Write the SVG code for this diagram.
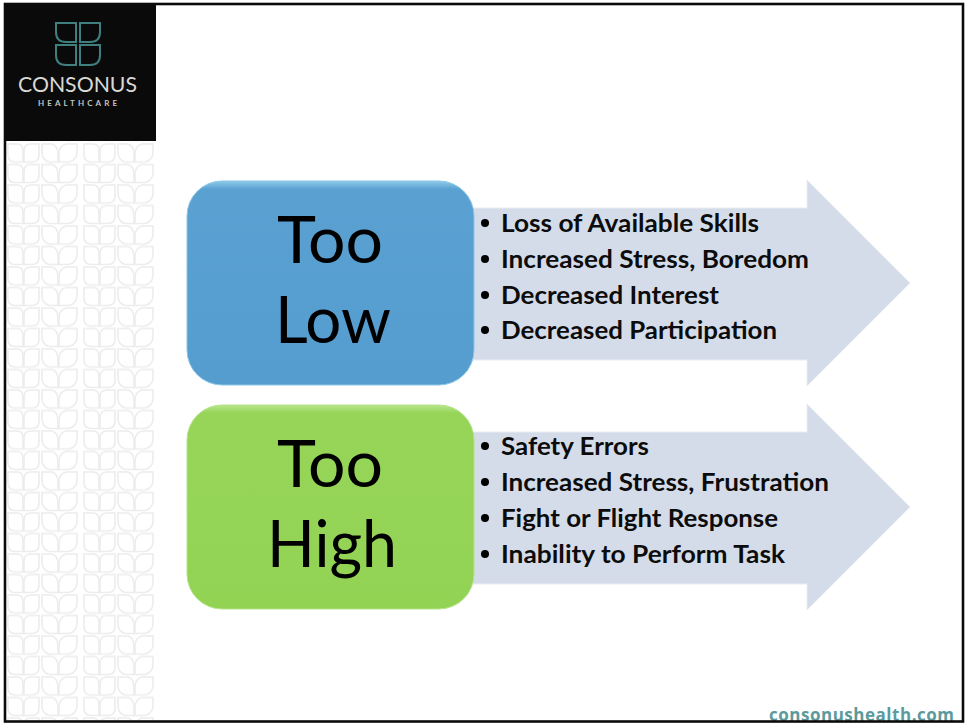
<svg xmlns="http://www.w3.org/2000/svg" width="966" height="723" viewBox="0 0 966 723">
<style>
.big{font-family:Lato,"Liberation Sans",sans-serif;font-size:65px;fill:#000;text-anchor:start}
.item{font-family:Lato,"Liberation Sans",sans-serif;font-weight:700;font-size:25px;fill:#0c0c0c}
.arrow{fill:#d5dce9;stroke:#e8ecf3;stroke-width:1}
.leaf{fill:none;stroke:#ececec;stroke-width:1.6}
</style>
<defs>
<linearGradient id="blueEdge" x1="0" y1="0" x2="0" y2="1"><stop offset="0" stop-color="#8fcbea"/><stop offset="0.04" stop-color="#5aa1d2"/><stop offset="1" stop-color="#559dcf"/></linearGradient>
<linearGradient id="greenEdge" x1="0" y1="0" x2="0" y2="1"><stop offset="0" stop-color="#b9e58c"/><stop offset="0.04" stop-color="#96d558"/><stop offset="1" stop-color="#93d354"/></linearGradient>
<pattern id="leaves" x="7" y="143" width="76" height="20.5" patternUnits="userSpaceOnUse">
<path class="leaf" d="M1 1H10Q16 1 16 8V19H8Q1 19 1 12Z"/>
<path class="leaf" d="M17 8Q17 1 24 1H32V12Q32 19 25 19H17Z"/>
<path class="leaf" d="M35 1H45Q51 3 51 11V19H42Q35 17 35 9Z"/>
<path class="leaf" d="M52 11Q52 3 59 1H70V9Q70 17 62 19H52Z"/>
</pattern>
</defs>
<rect width="966" height="723" fill="#fff"/>
<rect id="pattern-strip" x="7" y="143" width="149" height="577" fill="url(#leaves)"/>
<g id="logo">
<rect x="5" y="4" width="151" height="137" fill="#0a0a0a"/>
<g fill="none" stroke="#3f7f80" stroke-width="2">
<path d="M56 23H76V42H66Q56 42 56 32Z"/>
<path d="M80 42V23H100V32Q100 42 90 42Z"/>
<path d="M76 45V65H66Q56 65 56 55V45Z"/>
<path d="M80 45H100V55Q100 65 90 65H80Z"/>
</g>
<text x="18" y="92" font-family="Lato,'Liberation Sans',sans-serif" font-size="21" fill="#d8d8d4" textLength="119" lengthAdjust="spacingAndGlyphs">CONSONUS</text>
<text x="38" y="106" font-family="Lato,'Liberation Sans',sans-serif" font-size="8" font-weight="700" fill="#c4c4c0" textLength="79" lengthAdjust="spacing">HEALTHCARE</text>
</g>
<g id="connectors">
<path class="arrow" d="M470 208H807V180L910 283L807 386V360H470Z"/>
<path class="arrow" d="M470 432H807V404L910 507L807 610V584H470Z"/>
</g>
<g id="too-low">
<rect x="187" y="181" width="287" height="204" rx="35" fill="url(#blueEdge)" stroke="#8cc6e6" stroke-width="1"/>
<text class="big" x="277" y="263" textLength="106" lengthAdjust="spacingAndGlyphs">Too</text>
<text class="big" x="275" y="343" textLength="116" lengthAdjust="spacingAndGlyphs">Low</text>
</g>
<g id="too-low-list">
<circle cx="485" cy="223" r="4"/><text class="item" x="501" y="232" textLength="258" lengthAdjust="spacingAndGlyphs">Loss of Available Skills</text>
<circle cx="485" cy="259" r="4"/><text class="item" x="501" y="268" textLength="308" lengthAdjust="spacingAndGlyphs">Increased Stress, Boredom</text>
<circle cx="485" cy="295" r="4"/><text class="item" x="501" y="304" textLength="218" lengthAdjust="spacingAndGlyphs">Decreased Interest</text>
<circle cx="485" cy="330" r="4"/><text class="item" x="501" y="339" textLength="276" lengthAdjust="spacingAndGlyphs">Decreased Participation</text>
</g>
<g id="too-high">
<rect x="187" y="405" width="287" height="204" rx="35" fill="url(#greenEdge)" stroke="#b5e38a" stroke-width="1"/>
<text class="big" x="277" y="487" textLength="106" lengthAdjust="spacingAndGlyphs">Too</text>
<text class="big" x="267" y="567" textLength="130" lengthAdjust="spacingAndGlyphs">High</text>
</g>
<g id="too-high-list">
<circle cx="485" cy="446" r="4"/><text class="item" x="501" y="455" textLength="148" lengthAdjust="spacingAndGlyphs">Safety Errors</text>
<circle cx="485" cy="482" r="4"/><text class="item" x="501" y="491" textLength="328" lengthAdjust="spacingAndGlyphs">Increased Stress, Frustration</text>
<circle cx="485" cy="518" r="4"/><text class="item" x="501" y="527" textLength="277" lengthAdjust="spacingAndGlyphs">Fight or Flight Response</text>
<circle cx="485" cy="554" r="4"/><text class="item" x="501" y="563" textLength="284" lengthAdjust="spacingAndGlyphs">Inability to Perform Task</text>
</g>
<text id="footer" x="769" y="721" font-family="'Open Sans',sans-serif" font-weight="700" font-size="17" fill="#5c9a9c" textLength="185" lengthAdjust="spacing">consonushealth.com</text>
<rect id="frame" x="5" y="4" width="958" height="717.5" fill="none" stroke="#0a0a0a" stroke-width="2.6"/>
</svg>
